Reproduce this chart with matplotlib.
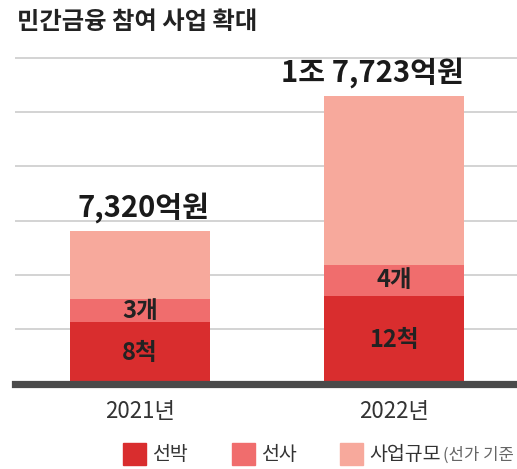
import matplotlib.pyplot as plt
from matplotlib.patches import Rectangle
import numpy as np

plt.rcParams['font.family'] = ['Noto Sans CJK KR', 'DejaVu Sans']

# data (bar heights, in grid units)
years = ["2021년", "2022년"]
series = ["선박", "선사", "사업규모"]
ship = [1.13, 1.61]
shipping_co = [0.43, 0.58]
project_size = [1.25, 3.11]
ship_labels = ["8척", "12척"]
co_labels = ["3개", "4개"]
total_labels = ["7,320억원", "1조 7,723억원"]
colors = ["#d92d2e", "#f06d6d", "#f7a99c"]

W, H = 517, 469
fig = plt.figure(figsize=(W / 100, H / 100), dpi=100)


def fx(px):
    return px / W


def fy(py):
    return 1 - py / H


zero_px, top_px = 383.5, 41.7
ax = fig.add_axes([fx(15), fy(zero_px), fx(517) - fx(15), (zero_px - top_px) / H])

x = np.arange(len(years))
width = 0.551
bottom = np.zeros(len(years))
for vals, col in zip([ship, shipping_co, project_size], colors):
    ax.bar(x, vals, width, bottom=bottom, color=col, zorder=3)
    bottom = bottom + np.array(vals)

# labels inside segments
for i in range(len(years)):
    ax.text(x[i], ship[i] / 2, ship_labels[i], ha='center', va='center',
            fontsize=17, fontweight='heavy', color='#222222', zorder=4)
    ax.text(x[i], ship[i] + shipping_co[i] / 2, co_labels[i], ha='center', va='center',
            fontsize=17, fontweight='heavy', color='#222222', zorder=4)
    ax.annotate(total_labels[i], (x[i] + width / 2, bottom[i]), xytext=(0, 17),
                textcoords='offset points', ha='right', va='center',
                fontsize=21, fontweight='heavy', color='#1a1a1a')

ax.set_xlim(-0.492, 1.484)
ax.set_ylim(0, 6.3)
ax.set_yticks(range(1, 7))
ax.yaxis.grid(True, color='#cccccc', lw=1.2, zorder=0)
ax.tick_params(axis='y', length=0, labelleft=False)
ax.set_xticks(x)
ax.set_xticklabels(years, fontsize=16, color='#333333')
ax.tick_params(axis='x', length=0, pad=12)
for s in ax.spines.values():
    s.set_visible(False)
ax.axhline(0, color='#4a4a4a', lw=5.2, zorder=5, clip_on=False)

# title
fig.text(fx(17), fy(22), "민간금융 참여 사업 확대", ha='left', va='center',
         fontsize=17.5, fontweight='heavy', color='#222222')

# legend
sq_x = [123, 232, 340]
for sx, col, lab in zip(sq_x, colors, series):
    fig.patches.append(Rectangle((fx(sx), fy(465)), 23 / W, 22 / H,
                                 transform=fig.transFigure, color=col))
    fig.text(fx(sx + 29), fy(454), lab, ha='left', va='center',
             fontsize=14, fontweight='medium', color='#333333')
fig.text(fx(443), fy(455), "(선가 기준", ha='left', va='center',
         fontsize=12, color='#666666')

fig.savefig("out.png", dpi=100)
